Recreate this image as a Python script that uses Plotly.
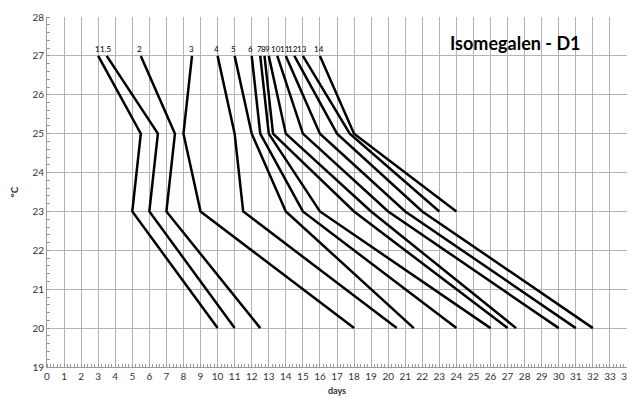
import plotly.graph_objects as go

# Series labels and days to reach each temperature level
series_labels = ["1", "1.5", "2", "3", "4", "5", "6", "7", "8", "9", "10", "11", "12", "13", "14"]
temps = [27, 25, 23, 20]
days_27 = [3, 3.5, 5.5, 8.5, 10, 11, 12, 12.5, 12.75, 13, 13.5, 14, 14.5, 15, 16]
days_25 = [5.5, 6.5, 7.5, 8, 11, 12, 12.5, 13, 13.25, 14, 15, 16, 17, 17.75, 18]
days_23 = [5, 6, 7, 9, 11.5, 14, 15, 16, 18, 19, 20, 21, 22, 23, 24]
days_20 = [10, 11, 12.5, 18, 20.5, 21.5, 24, 26, 27, 27.5, 30, 31, 32, None, None]

x_ticks = list(range(0, 35))
y_ticks = list(range(19, 29))

FONT = "Lato"

fig = go.Figure()
for i, name in enumerate(series_labels):
    xs = [days_27[i], days_25[i], days_23[i], days_20[i]]
    ys = list(temps)
    pts = [(x, y) for x, y in zip(xs, ys) if x is not None]
    fig.add_trace(go.Scatter(
        x=[p[0] for p in pts], y=[p[1] for p in pts],
        mode="lines", line=dict(color="black", width=2.5),
        name=name, showlegend=False, hoverinfo="skip"))
    fig.add_annotation(x=days_27[i], y=27, text=name, showarrow=False,
                       yshift=7, xshift=-1, font=dict(family=FONT, size=8, color="black"))

fig.add_annotation(x=0.807, y=0.926, xref="paper", yref="paper", text="<b>Isomegalen - D1</b>",
                   xanchor="center", yanchor="middle",
                   showarrow=False, font=dict(family=FONT, size=18, color="black"))

# page body adds an 8px offset, so the figure is sized/margined to place the plot area
fig.update_layout(
    width=627, height=389,
    margin=dict(l=39, r=8, t=9, b=30, autoexpand=False),
    plot_bgcolor="white", paper_bgcolor="white",
    font=dict(family=FONT, size=10, color="#333333"),
)
fig.update_xaxes(
    range=[0, 34], tickvals=x_ticks, ticktext=[str(v) for v in x_ticks],
    showgrid=True, gridcolor="#b3b3b3", gridwidth=1, automargin=False,
    showline=True, linecolor="#999999", linewidth=1, mirror=False,
    ticks="", zeroline=False, ticklabeloverflow="allow",
    minor=dict(dtick=0.2, ticks="inside", ticklen=3, tickcolor="#999999", showgrid=False),
    title=dict(text="<b>days</b>", font=dict(family=FONT, size=9, color="#333333"), standoff=6),
    tickfont=dict(family=FONT, size=10, color="#333333"),
)
fig.update_yaxes(
    range=[19, 28], tickvals=y_ticks, ticktext=[str(v) for v in y_ticks],
    showgrid=True, gridcolor="#b3b3b3", gridwidth=1, automargin=False,
    showline=True, linecolor="#999999", linewidth=1,
    ticks="", zeroline=False,
    minor=dict(dtick=0.2, ticks="inside", ticklen=3, tickcolor="#999999", showgrid=False),
    title=dict(text="<b>°C</b>", font=dict(family=FONT, size=10, color="#333333"), standoff=12),
    tickfont=dict(family=FONT, size=10, color="#333333"),
)

fig.write_html("out.html")
